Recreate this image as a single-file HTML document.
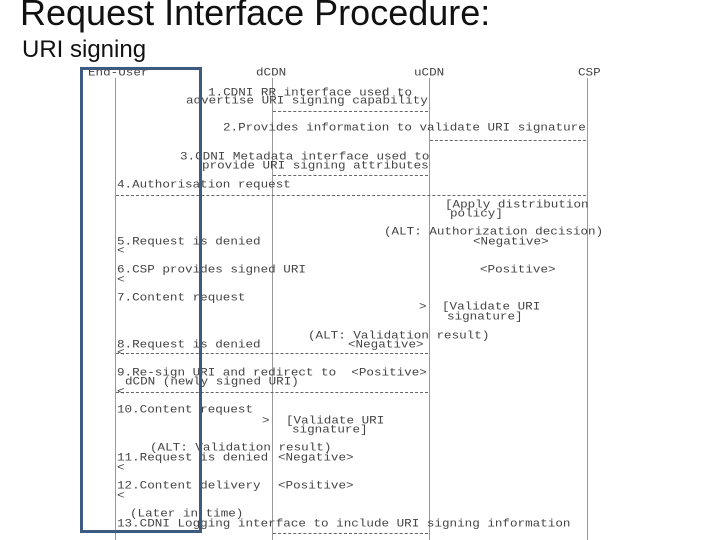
<!DOCTYPE html>
<html><head><meta charset="utf-8"><style>
body{margin:0;width:720px;height:540px;background:#fff;position:relative;overflow:hidden;font-family:"Liberation Sans",sans-serif}
.t{position:absolute;font-family:"Liberation Mono",monospace;font-size:12.6px;line-height:10px;color:#444;white-space:pre;transform:scaleY(0.85);transform-origin:left center}
.v{position:absolute;width:1px;background:#999;top:78px;height:462px}
.h{position:absolute;height:0;border-top:1px dashed #666}
</style></head><body>
<div style="position:absolute;left:20px;top:-8px;font-size:36px;color:#111">Request Interface Procedure:</div>
<div style="position:absolute;left:22px;top:36px;font-size:24px;color:#111">URI signing</div>

<div class="v" style="left:115px"></div>
<div class="v" style="left:272px"></div>
<div class="v" style="left:429px"></div>
<div class="v" style="left:587px"></div>

<div class="h" style="left:273px;width:155px;top:111px"></div>
<div class="h" style="left:430px;width:156px;top:140px"></div>
<div class="h" style="left:273px;width:155px;top:175px"></div>
<div class="h" style="left:116px;width:470px;top:195px"></div>
<div class="h" style="left:116px;width:312px;top:353px"></div>
<div class="h" style="left:116px;width:312px;top:392px"></div>
<div class="h" style="left:273px;width:155px;top:533px"></div>

<div class="t" style="left:88px;top:68px">End-User</div>
<div class="t" style="left:256px;top:68px">dCDN</div>
<div class="t" style="left:414px;top:68px">uCDN</div>
<div class="t" style="left:578px;top:68px">CSP</div>

<div class="t" style="left:208px;top:88px">1.CDNI RR interface used to</div>
<div class="t" style="left:186px;top:96px">advertise URI signing capability</div>
<div class="t" style="left:223px;top:123px">2.Provides information to validate URI signature</div>
<div class="t" style="left:180px;top:152px">3.CDNI Metadata interface used to</div>
<div class="t" style="left:202px;top:161px">provide URI signing attributes</div>
<div class="t" style="left:117px;top:180px">4.Authorisation request</div>
<div class="t" style="left:445px;top:200px">[Apply distribution</div>
<div class="t" style="left:450px;top:209px">policy]</div>
<div class="t" style="left:384px;top:227px">(ALT: Authorization decision)</div>
<div class="t" style="left:117px;top:237px">5.Request is denied</div>
<div class="t" style="left:473px;top:237px">&lt;Negative&gt;</div>
<div class="t" style="left:117px;top:246px">&lt;</div>
<div class="t" style="left:117px;top:265px">6.CSP provides signed URI</div>
<div class="t" style="left:480px;top:265px">&lt;Positive&gt;</div>
<div class="t" style="left:117px;top:275px">&lt;</div>
<div class="t" style="left:117px;top:293px">7.Content request</div>
<div class="t" style="left:419px;top:302px">&gt;</div>
<div class="t" style="left:442px;top:302px">[Validate URI</div>
<div class="t" style="left:447px;top:312px">signature]</div>
<div class="t" style="left:308px;top:331px">(ALT: Validation result)</div>
<div class="t" style="left:117px;top:340px">8.Request is denied</div>
<div class="t" style="left:348px;top:340px">&lt;Negative&gt;</div>
<div class="t" style="left:117px;top:348px">&lt;</div>
<div class="t" style="left:117px;top:368px">9.Re-sign URI and redirect to  &lt;Positive&gt;</div>
<div class="t" style="left:125px;top:377px">dCDN (newly signed URI)</div>
<div class="t" style="left:117px;top:387px">&lt;</div>
<div class="t" style="left:117px;top:405px">10.Content request</div>
<div class="t" style="left:262px;top:416px">&gt;</div>
<div class="t" style="left:286px;top:416px">[Validate URI</div>
<div class="t" style="left:292px;top:425px">signature]</div>
<div class="t" style="left:150px;top:443px">(ALT: Validation result)</div>
<div class="t" style="left:117px;top:453px">11.Request is denied</div>
<div class="t" style="left:278px;top:453px">&lt;Negative&gt;</div>
<div class="t" style="left:117px;top:463px">&lt;</div>
<div class="t" style="left:117px;top:481px">12.Content delivery</div>
<div class="t" style="left:278px;top:481px">&lt;Positive&gt;</div>
<div class="t" style="left:117px;top:491px">&lt;</div>
<div class="t" style="left:130px;top:509px">(Later in time)</div>
<div class="t" style="left:117px;top:519px">13.CDNI Logging interface to include URI signing information</div>

<div style="position:absolute;left:80px;top:67px;width:116px;height:460px;border:3px solid #3d5a80"></div>
</body></html>
